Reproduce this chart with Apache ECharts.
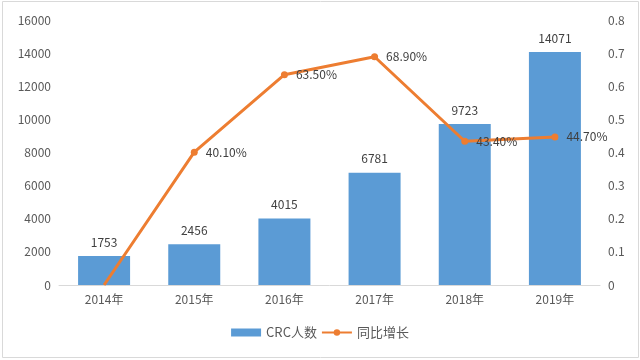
<!DOCTYPE html>
<html><head><meta charset="utf-8">
<script src="https://cdn.jsdelivr.net/npm/echarts@6/dist/echarts.min.js"></script>
<style>html,body{margin:0;padding:0;background:#fff}#c{width:640px;height:360px}</style>
</head><body><div id="c"></div>
<script>
const categories = ['2014年','2015年','2016年','2017年','2018年','2019年'];
const crcCount = [1753, 2456, 4015, 6781, 9723, 14071];
const growth = [0, 0.401, 0.635, 0.689, 0.434, 0.447];
const leftTicks = {min: 0, max: 16000, interval: 2000};
const rightTicks = {min: 0, max: 0.8, interval: 0.1};

const chart = echarts.init(document.getElementById('c'));
const font = '"Noto Sans CJK SC", "Noto Sans", sans-serif';
chart.setOption({
  animation: false,
  textStyle: {fontFamily: font},
  graphic: [{type: 'rect', shape: {x: 2.5, y: 1.5, width: 636, height: 356}, style: {fill: 'none', stroke: '#d9d9d9', lineWidth: 1}, silent: true}],
  grid: {left: 59, right: 40, top: 20, bottom: 75},
  legend: {
    bottom: 16, left: 'center', itemGap: 4, itemWidth: 30, itemHeight: 8,
    textStyle: {color: '#595959', fontSize: 13, fontFamily: font},
    data: [{name: 'CRC人数', icon: 'rect'}, {name: '同比增长'}]
  },
  xAxis: {
    type: 'category', data: categories,
    axisLine: {lineStyle: {color: '#d9d9d9'}},
    axisTick: {show: false},
    axisLabel: {color: '#595959', fontSize: 12, margin: 8}
  },
  yAxis: [{
    type: 'value', min: leftTicks.min, max: leftTicks.max, interval: leftTicks.interval,
    splitLine: {show: false}, axisLine: {show: false}, axisTick: {show: false},
    axisLabel: {color: '#595959', fontSize: 12, margin: 8, formatter: v => String(v)}
  }, {
    type: 'value', min: rightTicks.min, max: rightTicks.max, interval: rightTicks.interval,
    splitLine: {show: false}, axisLine: {show: false}, axisTick: {show: false},
    axisLabel: {color: '#595959', fontSize: 12, margin: 8, formatter: v => String(+v.toFixed(1))}
  }],
  series: [{
    name: 'CRC人数', type: 'bar', data: crcCount, barWidth: 52,
    itemStyle: {color: '#5B9BD5'},
    label: {show: true, position: 'top', color: '#404040', fontSize: 12, distance: 8}
  }, {
    name: '同比增长', type: 'line', yAxisIndex: 1, data: growth.map((v, i) => i === 0 ? {value: v, symbolSize: 0, label: {show: false}} : v),
    color: '#ED7D31',
    lineStyle: {color: '#ED7D31', width: 3},
    itemStyle: {color: '#ED7D31'},
    symbol: 'circle', symbolSize: 7,
    label: {show: true, position: 'right', color: '#404040', fontSize: 12, distance: 8,
      formatter: p => (p.value * 100).toFixed(2) + '%'}
  }]
});
</script></body></html>
